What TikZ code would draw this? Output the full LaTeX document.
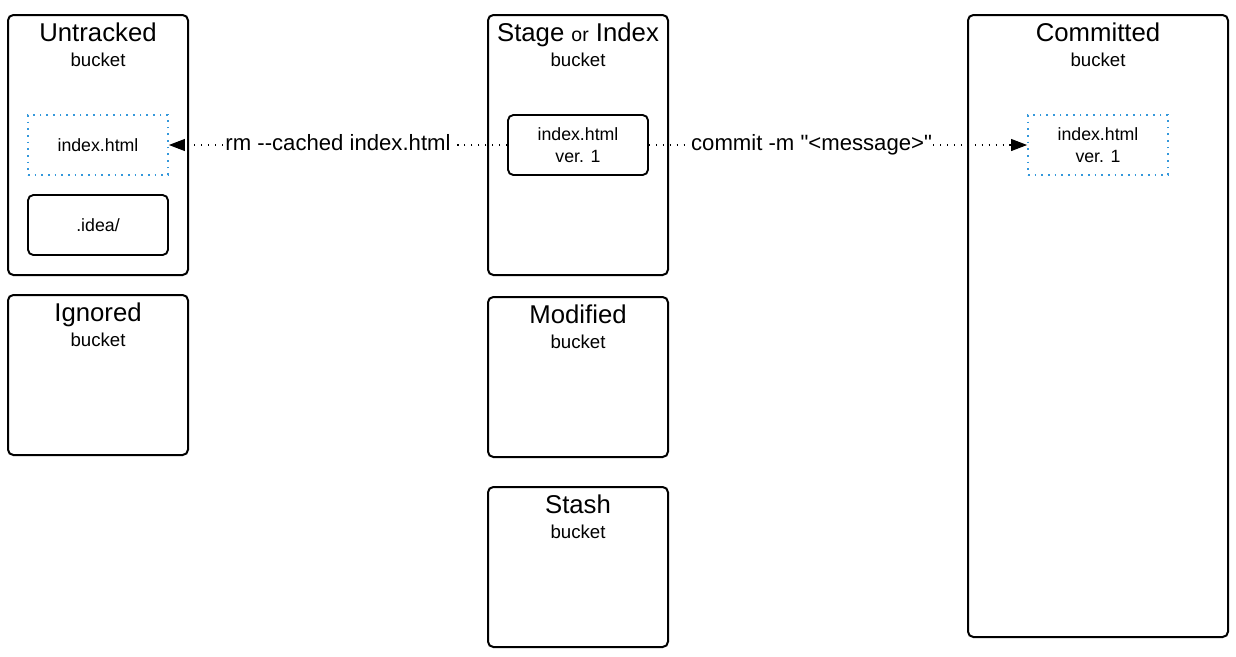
\documentclass[tikz,border=0pt]{standalone}
\usepackage{fontspec}
\setmainfont{Liberation Sans}[Ligatures=TeXOff]
\usetikzlibrary{arrows.meta,positioning}
\definecolor{dotblue}{RGB}{52,152,219}

\begin{document}
\begin{tikzpicture}[x=0.75pt, y=-0.75pt,
    bucket/.style={draw, line width=1.5pt, rounded corners=4pt, minimum width=135pt},
    file/.style={draw, line width=1.4pt, rounded corners=4pt, minimum width=105pt,
                 minimum height=45pt, align=center, font=\fontsize{13.3}{16.5}\selectfont},
    ghost/.style={file, draw=dotblue, rounded corners=0pt, dash pattern=on 1.3pt off 3.7pt},
    title/.style={anchor=base, font=\fontsize{19.3}{23}\selectfont},
    sub/.style={anchor=base, font=\fontsize{14}{17}\selectfont},
    arr/.style={-{Triangle[length=12pt,width=9pt]}, line width=0.8pt, dash pattern=on 0.8pt off 4.4pt},
    cmd/.style={fill=white, inner sep=1pt, font=\fontsize{16.6}{20}\selectfont}
]
\useasboundingbox (0,0) rectangle (1236,657);

% buckets
\node[bucket, minimum height=195pt] (untracked) at (98,145) {};
\node[bucket, minimum height=120pt] (ignored) at (98,375) {};
\node[bucket, minimum height=195pt] (stage) at (578,145) {};
\node[bucket, minimum height=120pt] (modified) at (578,377) {};
\node[bucket, minimum height=120pt] (stash) at (578,567) {};
\node[bucket, minimum width=195pt, minimum height=466.5pt] (committed) at (1098,326) {};

% titles
\node[title] (untrackedtitle) at (98,41) {Untracked};
\node[sub] (untrackedsub) at (98,66) {bucket};
\node[title] (ignoredtitle) at (98,321) {Ignored};
\node[sub] (ignoredsub) at (98,346) {bucket};
\node[title] (stagetitle) at (578,41) {Stage {\fontsize{14.6}{17}\selectfont or} Index};
\node[sub] (stagesub) at (578,66) {bucket};
\node[title] (modifiedtitle) at (578,323) {Modified};
\node[sub] (modifiedsub) at (578,348) {bucket};
\node[title] (stashtitle) at (578,513) {Stash};
\node[sub] (stashsub) at (578,538) {bucket};
\node[title] (committedtitle) at (1098,41) {Committed};
\node[sub] (committedsub) at (1098,66) {bucket};

% files
\node[ghost] (untrackedidx) at (98,145) {index.html};
\node[file] (idea) at (98,225) {.idea/};
\node[file] (stageidx) at (578,145) {index.html\\ver. 1};
\node[ghost] (committedidx) at (1098,145) {index.html\\ver. 1};

% commands
\draw[arr] (stageidx) -- node[cmd, yshift=1.5pt] (rmcmd) {rm -\kern0pt-cached index.html} (untrackedidx);
\draw[arr] (stageidx) -- node[cmd, pos=0.43] (commitcmd) {commit -m "<message>"} (committedidx);
\end{tikzpicture}
\end{document}
